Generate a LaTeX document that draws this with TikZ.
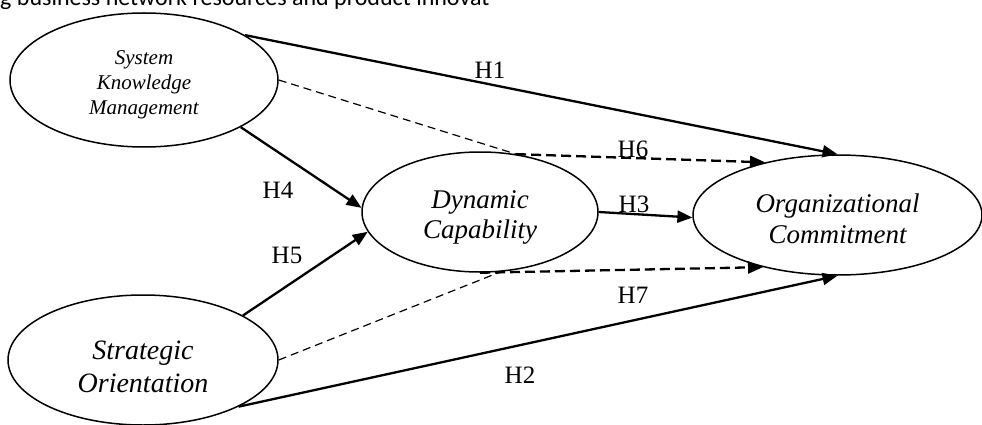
\documentclass[tikz,border=0pt]{standalone}
\usepackage{fontspec}
\setmainfont{Liberation Serif}
\newfontfamily\topfont{Carlito}
\usetikzlibrary{arrows.meta,shapes.geometric}
\begin{document}
\begin{tikzpicture}[x=1pt,y=-1pt,
  latent/.style={ellipse,draw,line width=1.5pt,inner sep=0pt,align=center},
  solidarrow/.style={line width=2.3pt,-{Triangle[length=15pt,width=12pt]}},
  thindash/.style={line width=1.2pt,dash pattern=on 8pt off 5pt},
  thickdash/.style={line width=2.3pt,dash pattern=on 10pt off 5pt,-{Triangle[length=15pt,width=12pt]}},
  hyp/.style={inner sep=0pt,font=\fontsize{25}{25}\selectfont}]
\useasboundingbox (0,0) rectangle (982,425);
\clip (0,0) rectangle (982,425);
\node[anchor=base west, inner sep=0pt, font=\topfont\fontsize{24}{24}\selectfont] (cap) at (0,5.5) {g business network resources and product innovat};
\node[latent, minimum width=268pt, minimum height=134pt, font=\itshape\fontsize{21}{25}\selectfont] (skm) at (144,80) {\rule{0pt}{24.3pt}System\\Knowledge\\Management};
\node[latent, minimum width=236pt, minimum height=120pt, font=\itshape\fontsize{27}{30}\selectfont] (dc) at (480,212) {\rule{0pt}{28.4pt}Dynamic\\Capability};
\node[latent, minimum width=289pt, minimum height=120pt, font=\itshape\fontsize{27}{31}\selectfont] (oc) at (837.5,215) {\rule{0pt}{25.4pt}Organizational\\Commitment};
\node[latent, minimum width=270pt, minimum height=130pt, font=\itshape\fontsize{28}{33}\selectfont] (so) at (143,360) {\rule{0pt}{32pt}Strategic\\Orientation};
\draw[solidarrow] (skm.24.4) -- (oc.north);
\draw[thindash] (skm.east) -- (dc.58);
\draw[thickdash] (dc.58) -- (oc.144);
\draw[solidarrow] (skm.-26.6) -- (dc.178);
\draw[solidarrow] (so.24.9) -- (dc.190);
\draw[solidarrow] (dc.east) -- (oc.181);
\draw[thindash] (so.east) -- (dc.-71);
\draw[thickdash] (dc.south) -- (oc.215);
\draw[solidarrow] (so.-26.3) -- (oc.south);
\node[hyp] (h1) at (490,70) {H1};
\node[hyp] (h6) at (633,149) {H6};
\node[hyp] (h3) at (634,204) {H3};
\node[hyp] (h7) at (633,295) {H7};
\node[hyp] (h2) at (520,375) {H2};
\node[hyp] (h4) at (278,190) {H4};
\node[hyp] (h5) at (287,255) {H5};
\end{tikzpicture}
\end{document}
